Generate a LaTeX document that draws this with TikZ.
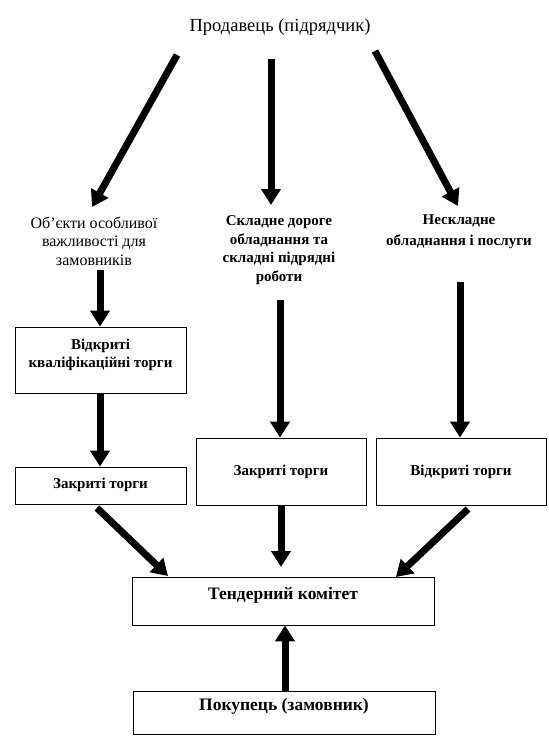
\documentclass[tikz,border=0pt]{standalone}
\usepackage{fontspec}
\setmainfont{Liberation Serif}
\usetikzlibrary{arrows.meta}
\begin{document}
\begin{tikzpicture}[x=1pt,y=-1pt,
  bigarrow/.style={line width=7pt,-{Triangle[width=19pt,length=16pt]}},
  boxnode/.style={draw=black,line width=0.8pt,inner sep=0pt},
  btext/.style={font=\fontsize{15}{18}\selectfont\bfseries,align=center,inner sep=0pt},
  ltext/.style={font=\fontsize{16}{18.6}\selectfont,align=center,inner sep=0pt}]
\useasboundingbox (0,0) rectangle (549,737);
% title
\node[font=\fontsize{18.5}{22}\selectfont,inner sep=0pt] (T) at (280,27) {Продавець (підрядчик)};
% labels
\node[ltext] (L1) at (94,241) {Об'єкти особливої\\важливості для\\замовників};
\node[btext,font=\fontsize{15}{18.7}\selectfont\bfseries] (L2) at (279,250) {Складне дороге\\обладнання та\\складні підрядні\\роботи};
\node[btext,font=\fontsize{15}{21}\selectfont\bfseries] (L3) at (459,232) {Нескладне\\обладнання і послуги};
% boxes
\node[boxnode,minimum width=171pt,minimum height=66pt] (A) at (100.5,360) {};
\node[btext] (At) at (100.5,355) {Відкриті\\кваліфікаційні  торги};
\node[boxnode,minimum width=171pt,minimum height=37pt] (B) at (100.5,485.5) {};
\node[btext] (Bt) at (100.5,484.5) {Закриті торги};
\node[boxnode,minimum width=170pt,minimum height=67pt] (C) at (281,471.5) {};
\node[btext] (Ct) at (281,471.5) {Закриті торги};
\node[boxnode,minimum width=170pt,minimum height=67pt] (D) at (461,471.5) {};
\node[btext] (Dt) at (461,471.5) {Відкриті  торги};
\node[boxnode,minimum width=302pt,minimum height=48pt] (E) at (283,601) {};
\node[btext,font=\fontsize{17.5}{19}\selectfont\bfseries] (Et) at (283,595) {Тендерний комітет};
\node[boxnode,minimum width=302pt,minimum height=43pt] (F) at (284,712.5) {};
\node[btext,font=\fontsize{17.5}{19}\selectfont\bfseries] (Ft) at (284,706) {Покупець (замовник)};
% arrow end points
\coordinate (t1s) at (177,55);
\coordinate (t1e) at (92,207);
\coordinate (t2s) at (271,59);
\coordinate (t2e) at (271,205);
\coordinate (t3s) at (375,51);
\coordinate (t3e) at (458,206);
\coordinate (l1s) at (100,270);
\coordinate (l2s) at (280,300);
\coordinate (l3s) at (460,282);
\coordinate (bs) at (97,508);
\coordinate (be) at (168,576);
\coordinate (ce) at (281,567);
\coordinate (ds) at (468,509);
\coordinate (de) at (396,577);
% arrows
\draw[bigarrow] (t1s) -- (t1e);
\draw[bigarrow] (t2s) -- (t2e);
\draw[bigarrow] (t3s) -- (t3e);
\draw[bigarrow] (l1s) -- (A.north -| l1s);
\draw[bigarrow] (l2s) -- (C.north -| l2s);
\draw[bigarrow] (l3s) -- (D.north -| l3s);
\draw[bigarrow] (A.south -| l1s) -- (B.north -| l1s);
\draw[bigarrow] (bs) -- (be);
\draw[bigarrow] (C.south -| ce) -- (ce);
\draw[bigarrow] (ds) -- (de);
\draw[bigarrow] (F.north -| 285,0) -- (E.south -| 285,0);
\end{tikzpicture}
\end{document}
